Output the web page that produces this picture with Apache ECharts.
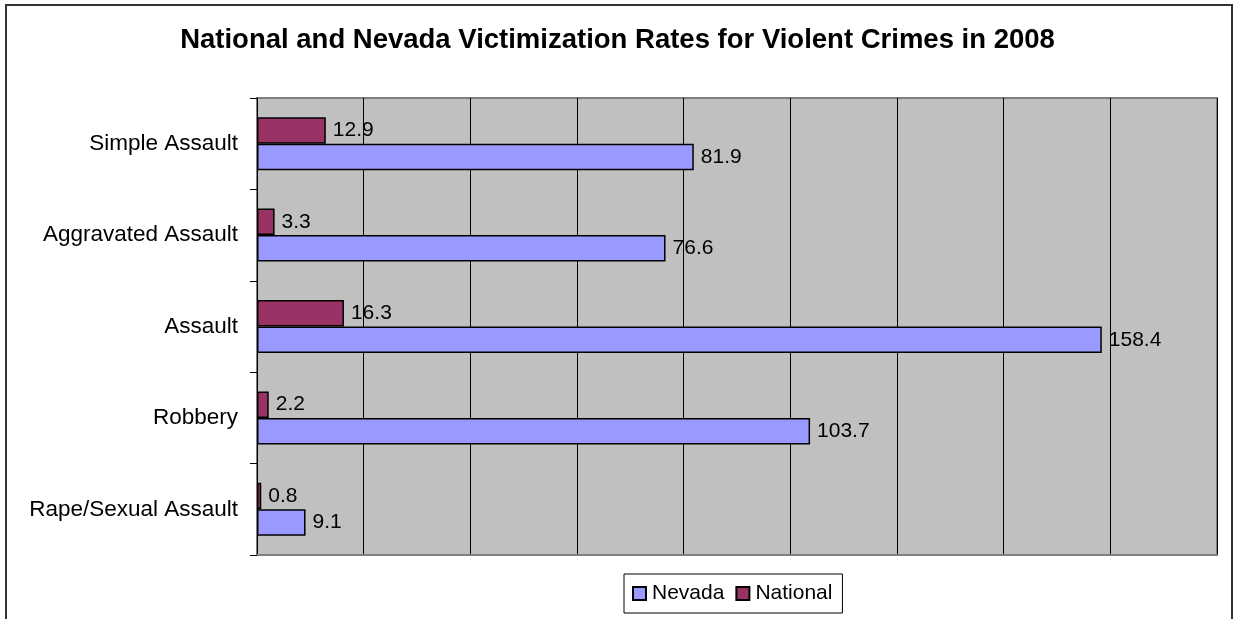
<!DOCTYPE html>
<html>
<head>
<meta charset="utf-8">
<script src="https://cdn.jsdelivr.net/npm/echarts@6/dist/echarts.min.js"></script>
<style>
  html, body { margin: 0; padding: 0; background: #fff; }
  #main { width: 1235px; height: 619px; }
</style>
</head>
<body>
<div id="main"></div>
<script>
// categories bottom to top, as the y axis runs
var categories = ['Rape/Sexual Assault', 'Robbery', 'Assault', 'Aggravated Assault', 'Simple Assault']
var nevada = [9.1, 103.7, 158.4, 76.6, 81.9]
var national = [0.8, 2.2, 16.3, 3.3, 12.9]

var chart = echarts.init(document.getElementById('main'))

var labelStyle = {
  show: true,
  position: 'right',
  distance: 7,
  color: '#000',
  fontFamily: 'Liberation Sans, Arial',
  fontSize: 21
}

var option = {
  animation: false,
  textStyle: { fontFamily: 'Liberation Sans, Arial' },
  title: {
    text: 'National and Nevada Victimization Rates for Violent Crimes in 2008',
    left: 'center',
    top: 21,
    textStyle: { fontSize: 27.5, fontWeight: 'bold', color: '#000', fontFamily: 'Liberation Sans, Arial' }
  },
  graphic: [
    {
      type: 'rect',
      shape: { x: 6, y: 5, width: 1226, height: 700 },
      style: { fill: 'none', stroke: '#333', lineWidth: 2 },
      silent: true
    }
  ],
  legend: {
    data: ['Nevada', 'National'],
    top: 574,
    left: 624,
    itemWidth: 13,
    itemHeight: 13,
    itemGap: 11,
    padding: [9, 10, 9, 8],
    borderColor: '#000',
    borderWidth: 1,
    backgroundColor: '#fff',
    textStyle: { fontSize: 21, color: '#000', padding: [0, 0, 0, 1] },
    icon: 'rect'
  },
  grid: {
    left: 257,
    right: 18,
    top: 98,
    bottom: 64,
    show: true,
    backgroundColor: '#C0C0C0',
    borderColor: '#808080',
    borderWidth: 2
  },
  xAxis: {
    type: 'value',
    min: 0,
    max: 180,
    interval: 20,
    axisLabel: { show: false },
    axisTick: { show: false },
    axisLine: { show: true, lineStyle: { color: '#808080', width: 2 } },
    splitLine: { show: true, lineStyle: { color: '#000', width: 1 } }
  },
  yAxis: {
    type: 'category',
    data: categories,
    axisLine: { show: true, lineStyle: { color: '#000', width: 1 } },
    axisTick: { show: true, length: 7, lineStyle: { color: '#000' } },
    axisLabel: { fontSize: 22.5, color: '#000', margin: 19 }
  },
  series: [
    {
      name: 'National',
      type: 'bar',
      data: national,
      barGap: '0%',
      barCategoryGap: '42%',
      itemStyle: { color: '#993366', borderColor: '#000', borderWidth: 1.5 },
      label: labelStyle
    },
    {
      name: 'Nevada',
      type: 'bar',
      data: nevada,
      barGap: '0%',
      barCategoryGap: '42%',
      itemStyle: { color: '#9999FF', borderColor: '#000', borderWidth: 1.5 },
      label: labelStyle
    }
  ]
}

chart.setOption(option)
</script>
</body>
</html>
